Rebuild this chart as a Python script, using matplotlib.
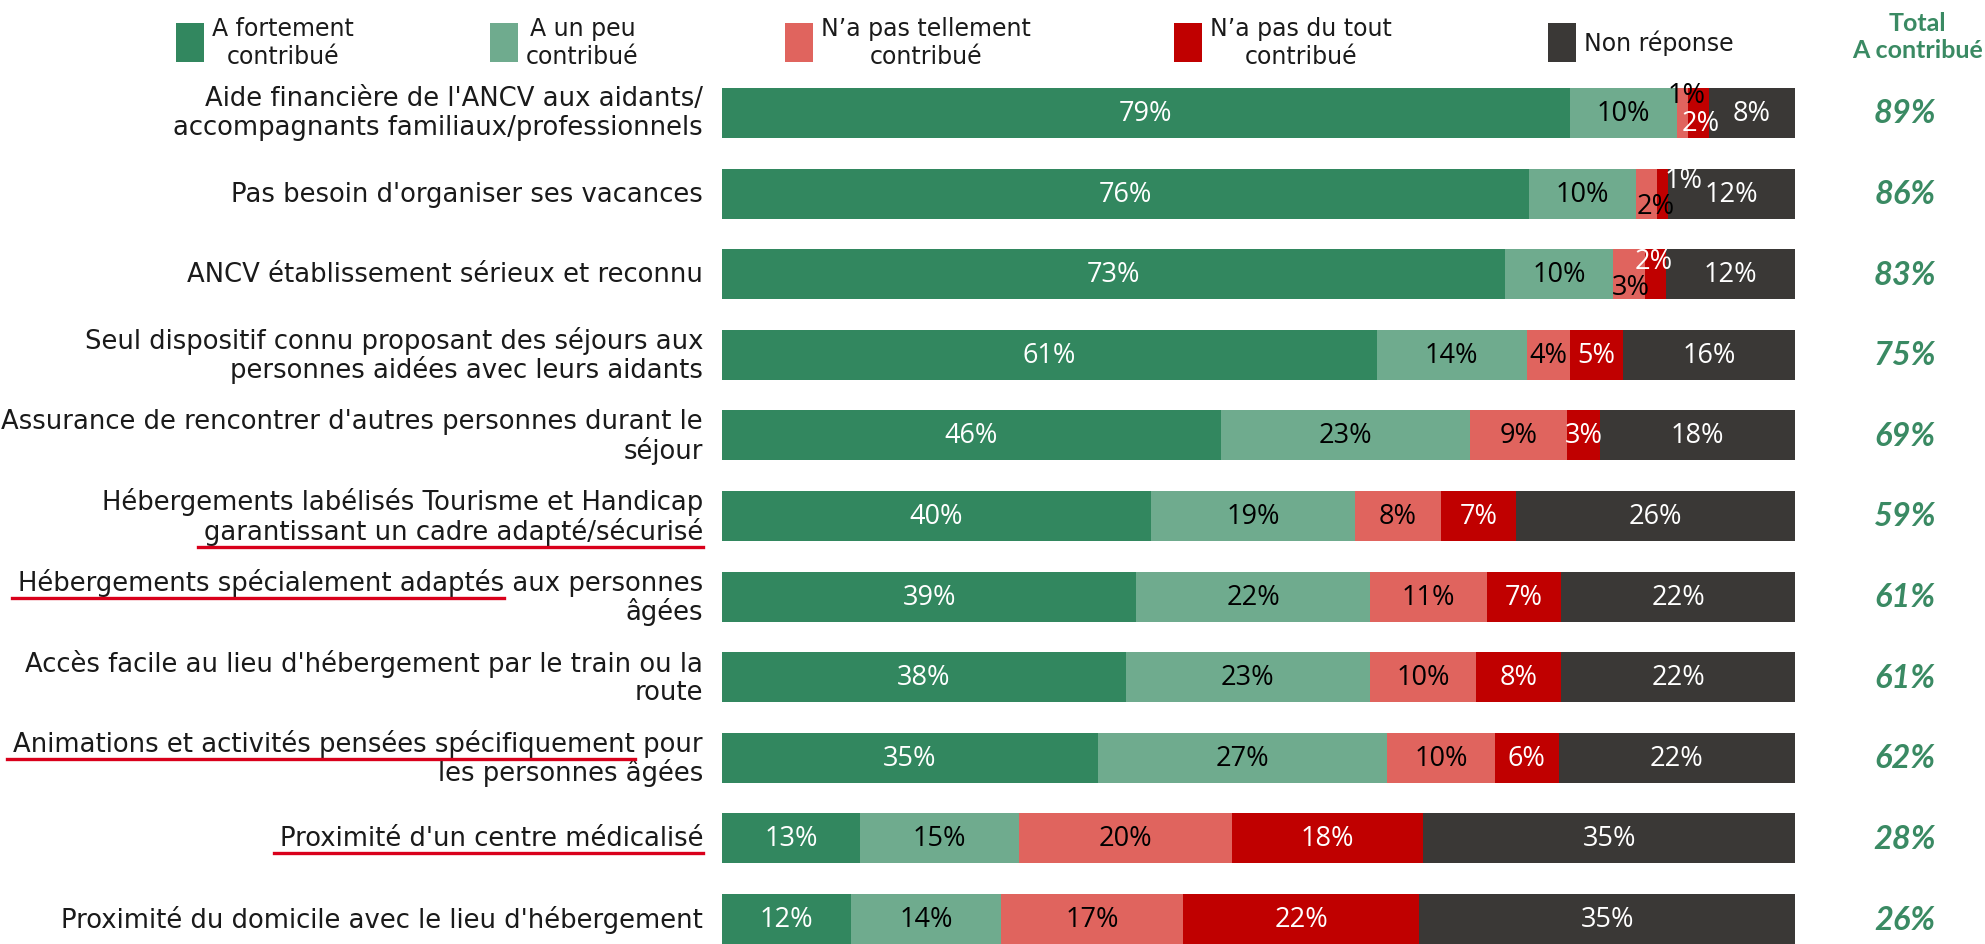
import matplotlib
matplotlib.use("Agg")
import matplotlib.pyplot as plt
import matplotlib.transforms as mtransforms
from matplotlib.lines import Line2D
from matplotlib.patches import Rectangle
import numpy as np

categories = [
    "Aide financière de l'ANCV aux aidants/\naccompagnants familiaux/professionnels",
    "Pas besoin d'organiser ses vacances",
    "ANCV établissement sérieux et reconnu",
    "Seul dispositif connu proposant des séjours aux\npersonnes aidées avec leurs aidants",
    "Assurance de rencontrer d'autres personnes durant le\nséjour",
    "Hébergements labélisés Tourisme et Handicap\ngarantissant un cadre adapté/sécurisé",
    "Hébergements spécialement adaptés aux personnes\nâgées",
    "Accès facile au lieu d'hébergement par le train ou la\nroute",
    "Animations et activités pensées spécifiquement pour\nles personnes âgées",
    "Proximité d'un centre médicalisé",
    "Proximité du domicile avec le lieu d'hébergement",
]
fortement = [79, 76, 73, 61, 46, 40, 39, 38, 35, 13, 12]
un_peu = [10, 10, 10, 14, 23, 19, 22, 23, 27, 15, 14]
pas_tellement = [1, 2, 3, 4, 9, 8, 11, 10, 10, 20, 17]
pas_du_tout = [2, 1, 2, 5, 3, 7, 7, 8, 6, 18, 22]
non_reponse = [8, 12, 12, 16, 18, 26, 22, 22, 22, 35, 35]
total_contribue = [89, 86, 83, 75, 69, 59, 61, 61, 62, 28, 26]

series_names = ["A fortement\ncontribué", "A un peu\ncontribué",
                "N\u2019a pas tellement\ncontribué", "N\u2019a pas du tout\ncontribué",
                "Non réponse"]

# underlined part of some labels: row -> (line index, text)
underlined = {
    5: (1, "garantissant un cadre adapté/sécurisé"),
    6: (0, "Hébergements spécialement adaptés"),
    8: (0, "Animations et activités pensées spécifiquement"),
    9: (0, "Proximité d'un centre médicalisé"),
}

colors = ["#32875F", "#6FAB8E", "#E0645E", "#C00000", "#3A3836"]
text_colors = ["white", "black", "black", "white", "white"]
total_green = "#3A8A63"
W, H = 1985, 945

# manual nudges of crowded labels: (row, series) -> (dx in %, dy in rows)
nudges = {(0, 2): (0.4, -0.22), (0, 3): (0.2, 0.13),
          (1, 2): (0.9, 0.16), (1, 3): (2.0, -0.17),
          (2, 2): (0.2, 0.16), (2, 3): (-0.2, -0.16)}

values = np.array([fortement, un_peu, pas_tellement, pas_du_tout, non_reponse], dtype=float)
shares = values / values.sum(axis=0) * 100
n = len(categories)
y = np.arange(n)

fig = plt.figure(figsize=(W / 100, H / 100), dpi=100)
ax = fig.add_axes([722 / W, 0, (1795 - 722) / W, 856 / H])

left = np.zeros(n)
for k in range(len(values)):
    ax.barh(y, shares[k], left=left, height=0.62, color=colors[k], linewidth=0)
    for i in range(n):
        dx, dy = nudges.get((i, k), (0, 0))
        ax.text(left[i] + shares[k][i] / 2 + dx, y[i] + dy, f"{int(values[k][i])}%",
                ha="center", va="center", fontsize=19.5, family="Open Sans",
                color=text_colors[k])
    left += shares[k]

ax.set_xlim(0, 100)
ax.set_ylim(n - 1 + 0.31, -0.31)
ax.axis("off")

# category labels, one text per line so underlines can be measured
trans = mtransforms.blended_transform_factory(fig.transFigure, ax.transData)
line_gap = 0.18
renderer = fig.canvas.get_renderer()
label_font = dict(family="DejaVu Sans", fontsize=18.6, color="#1a1a1a")
for i, cat in enumerate(categories):
    lines = cat.split("\n")
    offs = [0] if len(lines) == 1 else [-line_gap, line_gap]
    for j, (line, off) in enumerate(zip(lines, offs)):
        t = ax.text(703 / W, i + off, line, ha="right", va="center",
                    transform=trans, **label_font)
        if i in underlined and underlined[i][0] == j:
            part = underlined[i][1]
            rest = line[len(part):]
            bb = t.get_window_extent(renderer)
            rest_w = 0
            if rest:
                tmp = fig.text(0, 0, rest, **label_font)
                rest_w = tmp.get_window_extent(renderer).width
                tmp.remove()
            ly = bb.y0 - 2
            fig.add_artist(Line2D([(bb.x0 - 6) / W, (bb.x1 - rest_w) / W], [ly / H, ly / H],
                                  transform=fig.transFigure, color="#D9001B", lw=2.4))

# totals column
for i, tot in enumerate(total_contribue):
    ax.text(1905 / W, i, f"{tot}%", ha="center", va="center", transform=trans,
            family="Lato", fontsize=23.5, weight="bold", style="italic", color=total_green)
fig.text(1983 / W, 1 - 37 / H, "Total\nA contribué", ha="right", va="center",
         multialignment="center", family="Lato", fontsize=18, weight="bold",
         color=total_green, linespacing=1.2)

# legend
box_x = [176, 490, 785, 1174, 1548]
for k, name in enumerate(series_names):
    fig.add_artist(Rectangle((box_x[k] / W, 1 - 63 / H), 28 / W, 39 / H,
                             transform=fig.transFigure, color=colors[k], lw=0))
    if "\n" in name:
        tt = fig.text(0, 1 - 43 / H, name, ha="center", va="center", family="DejaVu Sans",
                      fontsize=17, color="#1a1a1a", linespacing=1.2)
        w = tt.get_window_extent(renderer).width
        tt.set_x((box_x[k] + 28 + 8 + w / 2) / W)
    else:
        fig.text((box_x[k] + 36) / W, 1 - 43 / H, name, ha="left", va="center",
                 family="DejaVu Sans", fontsize=17, color="#1a1a1a")

fig.savefig("out.png", dpi=100)
